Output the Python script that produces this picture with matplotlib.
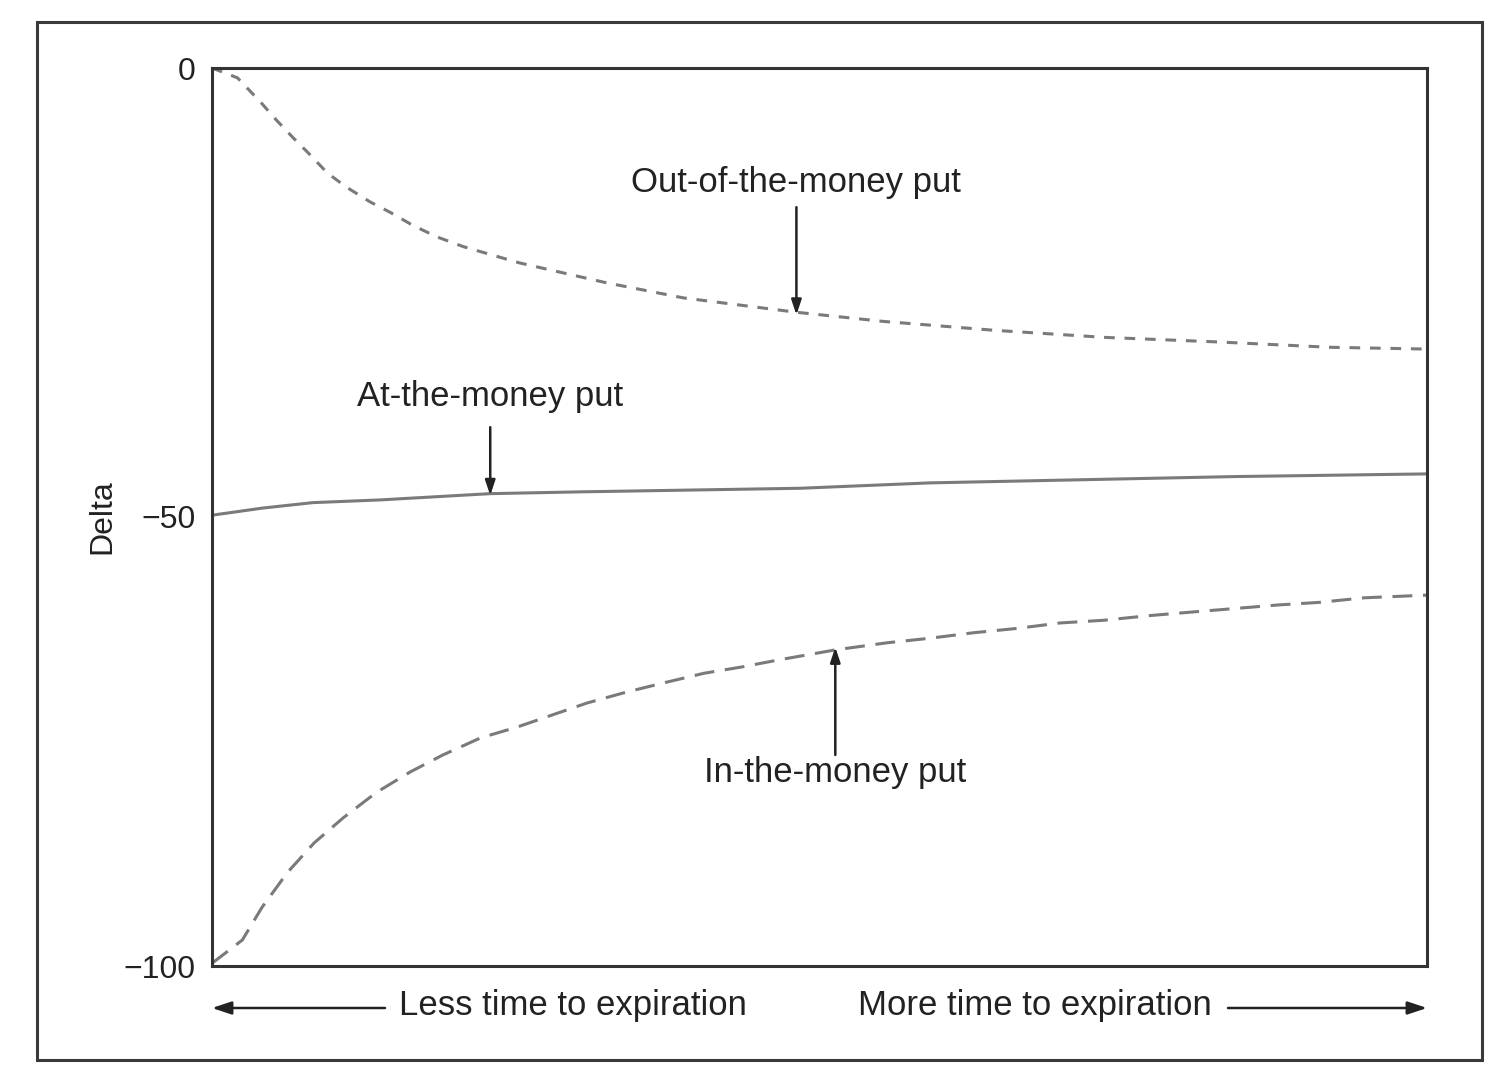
import matplotlib
matplotlib.use("Agg")
import matplotlib.pyplot as plt
from matplotlib.patches import Rectangle, FancyArrowPatch

plt.rcParams['font.family'] = ['Liberation Sans', 'DejaVu Sans']

# time to expiration (fraction of axis, left = less time, right = more time)
otm_x = [0.0, 0.021, 0.040, 0.053, 0.067, 0.081, 0.095, 0.111, 0.130, 0.147, 0.165, 0.185,
         0.207, 0.253, 0.324, 0.388, 0.481, 0.551, 0.643, 0.735, 0.827, 0.920, 1.0]
otm_delta = [0.0, -1.1, -3.8, -5.8, -7.8, -9.7, -11.7, -13.3, -14.9, -16.1, -17.5, -18.8,
             -19.9, -21.7, -23.9, -25.6, -27.2, -28.2, -29.2, -30.0, -30.5, -31.1, -31.3]

atm_x = [0.0, 0.042, 0.083, 0.138, 0.229, 0.303, 0.484, 0.591, 0.734, 0.841, 1.0]
atm_delta = [-49.8, -49.0, -48.4, -48.1, -47.4, -47.2, -46.8, -46.2, -45.8, -45.5, -45.2]

itm_x = [0.0, 0.025, 0.041, 0.062, 0.084, 0.108, 0.135, 0.163, 0.190, 0.221, 0.251, 0.281,
         0.309, 0.341, 0.374, 0.405, 0.436, 0.467, 0.513, 0.556, 0.591, 0.626, 0.663, 0.698,
         0.734, 0.770, 0.805, 0.841, 0.877, 0.912, 0.948, 1.0]
itm_delta = [-99.7, -97.1, -93.5, -89.6, -86.3, -83.5, -80.7, -78.4, -76.5, -74.6, -73.4, -72.0,
             -70.7, -69.5, -68.4, -67.4, -66.7, -65.9, -64.8, -64.0, -63.5, -62.9, -62.4, -61.8,
             -61.5, -61.0, -60.6, -60.2, -59.8, -59.5, -59.0, -58.7]

y_ticks = [0, -50, -100]
y_ticklabels = ["0", "\u221250", "\u2212100"]

labels = ["Out-of-the-money put", "At-the-money put", "In-the-money put"]

fig = plt.figure(figsize=(15.09, 10.8), dpi=100)
fig.patches.append(Rectangle((37 / 1509, 1 - 1060 / 1080), (1482 - 37) / 1509, (1060 - 22) / 1080,
                             transform=fig.transFigure, fill=False, edgecolor="#3a3a3a",
                             linewidth=2.2))

ax = fig.add_axes([212 / 1509, 1 - 966 / 1080, (1427 - 212) / 1509, (966 - 68) / 1080])
ax.set_xlim(0, 1)
ax.set_ylim(-100, 0)

gray = "#7a7a7a"
ax.plot(otm_x, otm_delta, color=gray, lw=2.2, dashes=(3.5, 3.2), solid_joinstyle="round")
ax.plot(atm_x, atm_delta, color=gray, lw=2.2, solid_joinstyle="round")
ax.plot(itm_x, itm_delta, color=gray, lw=2.2, dashes=(6.5, 3.5), solid_joinstyle="round")

for s in ax.spines.values():
    s.set_linewidth(2.2)
    s.set_color("#333333")

ax.set_xticks([])
ax.set_yticks(y_ticks)
ax.set_yticklabels(y_ticklabels, fontsize=23, color="#222222")
ax.tick_params(axis='y', length=0, pad=12)
ax.set_ylabel("Delta", fontsize=23, color="#222222", labelpad=4)

fs = 25
tc = "#222222"
arrow_kw = dict(arrowstyle="-|>,head_length=0.9,head_width=0.3", color="#222222", lw=1.8,
                shrinkA=0, shrinkB=0)

# Out-of-the-money annotation
ax.annotate("", xy=(otm_x[16], otm_delta[16] - 0.3), xytext=(otm_x[16], -15.5), arrowprops=arrow_kw)
ax.text(otm_x[16], -12.8, labels[0], ha="center", va="center", fontsize=fs, color=tc)

# At-the-money annotation
ax.annotate("", xy=(atm_x[4], atm_delta[4] - 0.2), xytext=(atm_x[4], -40.0), arrowprops=arrow_kw)
ax.text(atm_x[4], -36.6, labels[1], ha="center", va="center", fontsize=fs, color=tc)

# In-the-money annotation
ax.annotate("", xy=(itm_x[18], itm_delta[18] + 0.3), xytext=(itm_x[18], -76.5), arrowprops=arrow_kw)
ax.text(itm_x[18], -78.5, labels[2], ha="center", va="center", fontsize=fs, color=tc)

# Bottom time arrows
fig.text(573 / 1509, 1 - 1005 / 1080, "Less time to expiration", ha="center", va="center",
         fontsize=fs, color=tc)
fig.text(1035 / 1509, 1 - 1005 / 1080, "More time to expiration", ha="center", va="center",
         fontsize=fs, color=tc)
bottom_kw = dict(arrowstyle="-|>,head_length=0.9,head_width=0.3", color="#222222", lw=1.8,
                 shrinkA=0, shrinkB=0, mutation_scale=13, transform=fig.transFigure)
fig.patches.append(FancyArrowPatch((385 / 1509, 1 - 1008 / 1080), (212 / 1509, 1 - 1008 / 1080),
                                   **bottom_kw))
fig.patches.append(FancyArrowPatch((1228 / 1509, 1 - 1008 / 1080), (1427 / 1509, 1 - 1008 / 1080),
                                   **bottom_kw))

fig.savefig("out.png", dpi=100)
